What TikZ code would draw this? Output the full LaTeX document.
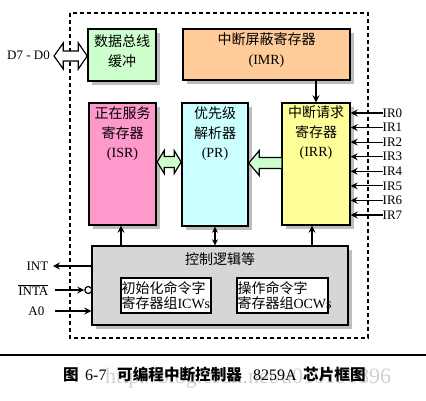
\documentclass[tikz,border=0pt]{standalone}
\usepackage{fontspec}
\setmainfont{Liberation Serif}
\newfontfamily\cjk{Noto Sans CJK SC}
\usetikzlibrary{shadows,arrows.meta,calc}
\definecolor{cgreen}{HTML}{CCFFCC}
\definecolor{corange}{HTML}{FFCC99}
\definecolor{cpink}{HTML}{FF99CC}
\definecolor{ccyan}{HTML}{CCFFFF}
\definecolor{cyellow}{HTML}{FFFF99}
\definecolor{cgray}{HTML}{D6D6D6}
\definecolor{cshadow}{HTML}{BDBDBD}
\begin{document}
\begin{tikzpicture}[x=1pt,y=-1pt,
  blk/.style={draw=black, line width=1.4pt, inner sep=0pt,
    drop shadow={shadow xshift=4pt, shadow yshift=-4pt, fill=cshadow, opacity=1}},
  inbox/.style={draw=black, line width=1.4pt, fill=white, inner sep=0pt},
  lbl/.style={font=\fontsize{14}{19.5}\selectfont, align=center, inner sep=0pt},
  sig/.style={font=\fontsize{13}{15}\selectfont, inner sep=0pt},
  tarr/.style={line width=1.2pt, -{Stealth[length=7pt,width=7pt,inset=2.5pt]}},
  tdarr/.style={line width=1.2pt, {Stealth[length=6pt,width=6pt,inset=2pt]}-{Stealth[length=6pt,width=6pt,inset=2pt]}},
  fat/.style={draw=black, line width=1.2pt, line join=miter},
  capc/.style={font=\cjk\bfseries\fontsize{15.6}{17}\selectfont, inner sep=0pt, anchor=base west},
  capl/.style={font=\fontsize{16}{17}\selectfont, inner sep=0pt, anchor=base west}
]
\useasboundingbox (0,0) rectangle (426,400);
\fill[white] (0,0) rectangle (426,400);

% dashed chip outline
\draw[line width=1.1pt, dash pattern=on 4pt off 3pt] (70,13) rectangle (368,338);

% blocks
\node[blk, fill=cgreen, minimum width=68pt, minimum height=52pt] (dbb) at (122,55) {};
\node[blk, fill=corange, minimum width=167pt, minimum height=51pt] (imr) at (266.5,54.5) {};
\node[blk, fill=cpink, minimum width=67pt, minimum height=122pt] (isr) at (122.5,164) {};
\node[blk, fill=ccyan, minimum width=66pt, minimum height=123pt] (pr) at (215,164.5) {};
\node[blk, fill=cyellow, minimum width=68pt, minimum height=122pt] (irr) at (316,164) {};
\node[blk, fill=cgray, minimum width=256pt, minimum height=79pt] (ctl) at (220,285.5) {};
\node[inbox, minimum width=90pt, minimum height=35pt] (icw) at (166,295.5) {};
\node[inbox, minimum width=91pt, minimum height=35pt] (ocw) at (282.5,295.5) {};

% block texts
\node[lbl] (tdbb) at (122,51) {{\cjk 数据总线}\\{\cjk 缓冲}};
\node[lbl] (timr) at (266.5,50) {{\cjk 中断屏蔽寄存器}\\(IMR)};
\node[lbl] (tisr) at (122.5,134) {{\cjk 正在服务}\\{\cjk 寄存器}\\(ISR)};
\node[lbl] (tpr) at (215,134) {{\cjk 优先级}\\{\cjk 解析器}\\(PR)};
\node[lbl] (tirr) at (316,133) {{\cjk 中断请求}\\{\cjk 寄存器}\\(IRR)};
\node[lbl] (tctl) at (220,259) {\cjk 控制逻辑等};
\node[lbl, font=\fontsize{14}{14.5}\selectfont, align=left, anchor=west] (ticw) at (icw.west) {\hspace{1pt}{\cjk 初始化命令字}\\\hspace{1pt}{\cjk 寄存器组}ICWs};
\node[lbl, font=\fontsize{14}{14.5}\selectfont, align=left, anchor=west] (tocw) at (ocw.west) {\hspace{1pt}{\cjk 操作命令字}\\\hspace{1pt}{\cjk 寄存器组}OCWs};

% fat arrows
\begin{scope}[shift={(isr.east)}]
  \draw[fat, fill=cgreen] (0.5,-2) -- (7.5,-13.5) -- (7.5,-7.5) -- (17.5,-7.5) -- (17.5,-13.5)
    -- (24.5,-2) -- (17.5,9.5) -- (17.5,3.5) -- (7.5,3.5) -- (7.5,9.5) -- cycle;
\end{scope}
\begin{scope}[shift={(irr.west)}]
  \draw[fat, fill=cgreen] (0,-6.5) -- (-22,-6.5) -- (-22,-13.5) -- (-32.5,-1) -- (-22,11.5)
    -- (-22,4.5) -- (0,4.5);
\end{scope}
\begin{scope}[shift={(dbb.west)}]
  \draw[fat, fill=white] (0,1) -- (-9,-12) -- (-9,-4) -- (-24,-4) -- (-24,-12) -- (-33.3,1)
    -- (-24,14) -- (-24,6) -- (-9,6) -- (-9,14) -- cycle;
\end{scope}

% thin arrows
\draw[tarr] (irr.north |- imr.south) -- (irr.north);
\draw[tarr] ([xshift=-1.5pt]isr.south |- ctl.north) -- ([xshift=-1.5pt]isr.south);
\draw[tdarr] (pr.south |- ctl.north) -- (pr.south);
\draw[tarr] ([xshift=-4pt]irr.south |- ctl.north) -- ([xshift=-4pt]irr.south);

% IR inputs
\foreach \i in {0,...,7} {
  \node[sig, anchor=west] (ir\i) at (382.5,{113+\i*14.57}) {IR\i};
  \draw[tarr] (ir\i.west) -- (irr.east |- ir\i.west);
}

% left signals
\node[sig, anchor=east] (lint) at (48.5,266) {INT};
\coordinate (intend) at ([xshift=4.5pt]lint.east);
\draw[tarr] (ctl.west |- lint.east) -- (intend);

\node[sig, anchor=east] (linta) at (48.5,290) {$\overline{\mbox{INTA}}$};
\node[circle, draw=black, line width=1.2pt, fill=white, minimum size=7pt, inner sep=0pt] (bub) at (88.3,290) {};
\coordinate (intastart) at ([xshift=6.5pt]linta.east |- bub.west);
\draw[tarr] (intastart) -- (bub.west);

\node[sig, anchor=east] (la0) at (44.5,311) {A0};
\coordinate (a0start) at ([xshift=10.5pt]la0.east);
\draw[tarr] (a0start) -- (ctl.west |- a0start);

\node[sig, anchor=east] (ldata) at (50,55) {D7 - D0};

% separator and caption
\draw[line width=1.8pt] (0,355) -- (426,355);
\node[inner sep=0pt, text=black!18, font=\fontsize{22}{24}\selectfont, anchor=west] (wm) at (105,378) {http://blog.csdn.net/u010190896};
\node[capc] (cap1) at (63,380) {图};
\node[capl] (cap2) at (85,380) {6-7};
\node[capc] (cap3) at (117,380) {可编程中断控制器};
\node[capl] (cap4) at (253,380) {8259A};
\node[capc] (cap5) at (303,380) {芯片框图};
\end{tikzpicture}
\end{document}
